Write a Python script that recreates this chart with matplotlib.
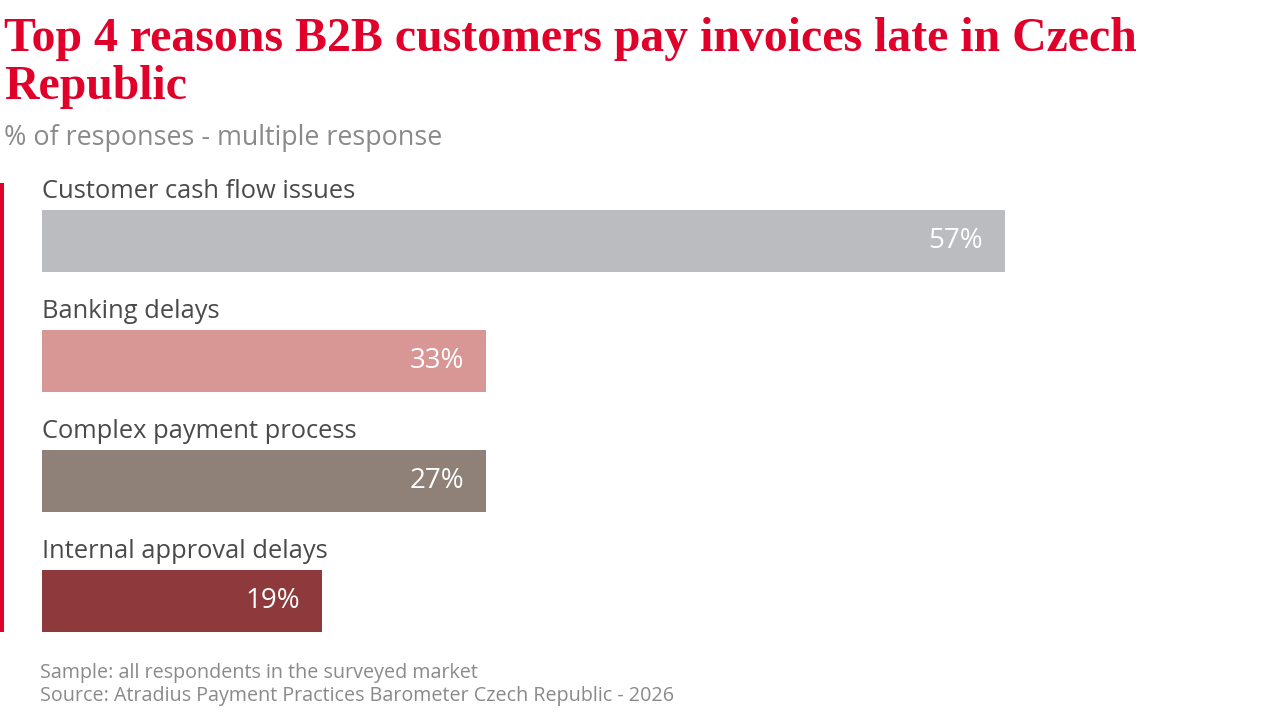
import matplotlib
matplotlib.use("Agg")
import matplotlib.pyplot as plt
from matplotlib.patches import Rectangle

# ---- data ----
categories = ["Customer cash flow issues", "Banking delays",
              "Complex payment process", "Internal approval delays"]
values = [57, 33, 27, 19]                 # printed labels
bar_lengths = [57, 26.3, 26.3, 16.6]      # bar extents as drawn in the reference
colors = ["#BBBCC0", "#D89694", "#8F8178", "#8E393C"]

title_lines = ["Top 4 reasons B2B customers pay invoices late in Czech", "Republic"]
subtitle = "% of responses - multiple response"
footer = ["Sample: all respondents in the surveyed market",
          "Source: Atradius Payment Practices Barometer Czech Republic - 2026"]

W, H = 1280, 720
fig = plt.figure(figsize=(W / 100, H / 100), dpi=100)
fig.patch.set_facecolor("white")
renderer = fig.canvas.get_renderer()

def fx(px):
    return px / W

def fy(py):
    return 1 - py / H

SANS = ["Open Sans", "DejaVu Sans"]
SERIF = ["Liberation Serif", "DejaVu Serif"]
RED = "#E0002A"

# axes: x 42..1005 px, y 210..632 px
pitch = 120.0
barh_px = 62.0
hh = barh_px / pitch
ax = fig.add_axes([fx(42), fy(632), fx(1005 - 42), (632 - 210) / H])
ax.set_xlim(0, 57)
ax.set_ylim(len(categories) - 1 + hh / 2, -hh / 2)
ax.axis("off")

ys = list(range(len(categories)))
ax.barh(ys, bar_lengths, height=hh, color=colors, left=0)

for i, (cat, v, L) in enumerate(zip(categories, values, bar_lengths)):
    ax.text(0, i - hh / 2 - 18 / pitch, cat, ha="left", va="center",
            fontsize=18.4, color="#4A4A4A", family=SANS, clip_on=False)
    ax.annotate(f"{v}%", xy=(L, i), xytext=(-22, 0), textcoords="offset pixels",
                ha="right", va="center", fontsize=20, color="white",
                family=SANS)

# red accent line
fig.add_artist(Rectangle((fx(0), fy(632)), fx(4), (632 - 183) / H,
                         transform=fig.transFigure, color=RED, lw=0))

# title, fitted to the reference width (5..1135 px)
t1 = fig.text(fx(4), fy(39), title_lines[0], ha="left", va="center",
              fontsize=30, color=RED, family=SERIF, weight="semibold")
w = t1.get_window_extent(renderer).width
fs = 30 * (1131 / w)
t1.set_fontsize(fs)
fig.text(fx(4), fy(87), title_lines[1], ha="left", va="center",
         fontsize=fs, color=RED, family=SERIF, weight="semibold")

fig.text(fx(4), fy(138), subtitle, ha="left", va="center", fontsize=19.4,
         color="#8A8A8A", family=SANS)
fig.text(fx(40), fy(673), footer[0], ha="left", va="center", fontsize=14.2,
         color="#8A8A8A", family=SANS)
fig.text(fx(40), fy(696), footer[1], ha="left", va="center", fontsize=14.2,
         color="#8A8A8A", family=SANS)

fig.savefig("out.png", dpi=100, facecolor="white")
